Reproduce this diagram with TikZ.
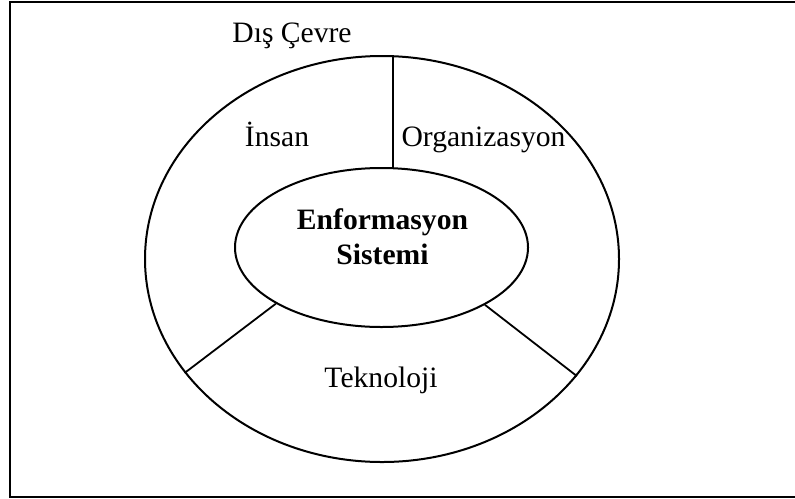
\documentclass[tikz,border=0pt]{standalone}
\usepackage{fontspec}
\setmainfont{Liberation Serif}
\usetikzlibrary{shapes.geometric}
\begin{document}
\begin{tikzpicture}[x=0.5pt,y=-0.5pt,
  ring/.style={draw,ellipse,line width=1pt,inner sep=0pt},
  label/.style={font=\fontsize{14.8}{17.5}\selectfont,inner sep=0pt,anchor=base},
  spoke/.style={line width=0.9pt}]
  \useasboundingbox (0,0) rectangle (795,498);
  % frame
  \draw[line width=1pt] (10,2) rectangle (796,497);
  % rings
  \node[ring,minimum width=237pt,minimum height=203pt] (outer) at (382,259) {};
  \node[ring,minimum width=146.5pt,minimum height=79.5pt] (inner) at (381.5,247.5) {};
  % ends of the upright divider, on the two rings
  \coordinate (vtop) at (393,56.3);
  \coordinate (vbot) at (393,168.3);
  % dividers
  \draw[spoke] (vtop) -- (vbot);
  \draw[spoke] (inner.208.4) -- (outer.210.5);
  \draw[spoke] (inner.331.1) -- (outer.329.5);
  % labels
  \node[label] (cevre) at (292,42) {Dış Çevre};
  \node[label] (insan) at (277,146) {İnsan};
  \node[label] (org) at (483.5,146) {Organizasyon};
  \node[label,anchor=center,align=center,font=\fontsize{14.8}{17.5}\bfseries] (es) at (382.5,237) {Enformasyon\\Sistemi};
  \node[label] (tek) at (381,387) {Teknoloji};
\end{tikzpicture}
\end{document}
